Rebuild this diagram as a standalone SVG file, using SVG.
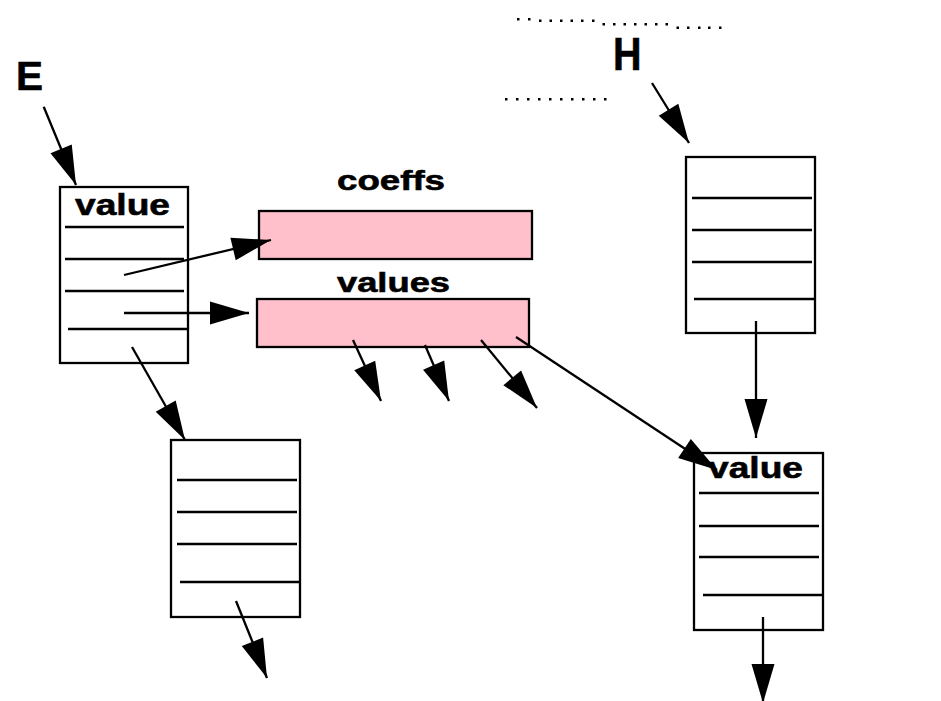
<svg xmlns="http://www.w3.org/2000/svg" width="941" height="701" viewBox="0 0 941 701">
<style>
.box{fill:#fff;stroke:#000;stroke-width:2.3}
.arr{fill:#ffc0cb;stroke:#000;stroke-width:2.3}
.ln{stroke:#000;stroke-width:2.3;fill:none}
.t{font-family:"Liberation Sans",Arial,sans-serif;font-weight:bold;fill:#000;stroke:#000;stroke-width:0.6}
.dot{fill:#000}
</style>
<defs>
<marker id="ah" viewBox="-41 -13 43 26" markerWidth="43" markerHeight="26" refX="0" refY="0" markerUnits="userSpaceOnUse" orient="auto">
<path d="M0,0 L-39,-11.5 L-39,11.5 Z" fill="#000"/>
</marker>
</defs>
<rect width="941" height="701" fill="#fff"/>

<g id="labelE">
<text class="t" x="16" y="90" font-size="40" textLength="27" lengthAdjust="spacingAndGlyphs">E</text>
</g>
<g id="labelH">
<text class="t" x="613" y="70" font-size="47" textLength="28.5" lengthAdjust="spacingAndGlyphs">H</text>
</g>
<g id="dots">
<rect class="dot" x="517" y="18" width="2.5" height="2.5"/>
<rect class="dot" x="528" y="18" width="2.5" height="2.5"/>
<rect class="dot" x="539" y="19.5" width="2.5" height="2.5"/>
<rect class="dot" x="549.5" y="19.5" width="2.5" height="2.5"/>
<rect class="dot" x="560" y="19.5" width="2.5" height="2.5"/>
<rect class="dot" x="570.5" y="19.5" width="2.5" height="2.5"/>
<rect class="dot" x="581" y="19.5" width="2.5" height="2.5"/>
<rect class="dot" x="592" y="19.5" width="2.5" height="2.5"/>
<rect class="dot" x="602.5" y="23" width="2.5" height="2.5"/>
<rect class="dot" x="613" y="23" width="2.5" height="2.5"/>
<rect class="dot" x="623.5" y="23" width="2.5" height="2.5"/>
<rect class="dot" x="634" y="23" width="2.5" height="2.5"/>
<rect class="dot" x="644.5" y="23" width="2.5" height="2.5"/>
<rect class="dot" x="655" y="23" width="2.5" height="2.5"/>
<rect class="dot" x="665.5" y="23" width="2.5" height="2.5"/>
<rect class="dot" x="676.5" y="26.5" width="2.5" height="2.5"/>
<rect class="dot" x="687" y="26.5" width="2.5" height="2.5"/>
<rect class="dot" x="698" y="26.5" width="2.5" height="2.5"/>
<rect class="dot" x="708" y="26.5" width="2.5" height="2.5"/>
<rect class="dot" x="719" y="26.5" width="2.5" height="2.5"/>
<rect class="dot" x="505" y="98" width="2.5" height="2.5"/>
<rect class="dot" x="516" y="98" width="2.5" height="2.5"/>
<rect class="dot" x="527" y="98" width="2.5" height="2.5"/>
<rect class="dot" x="538" y="98" width="2.5" height="2.5"/>
<rect class="dot" x="549" y="98" width="2.5" height="2.5"/>
<rect class="dot" x="560" y="98" width="2.5" height="2.5"/>
<rect class="dot" x="571" y="98" width="2.5" height="2.5"/>
<rect class="dot" x="582" y="98" width="2.5" height="2.5"/>
<rect class="dot" x="593" y="98" width="2.5" height="2.5"/>
<rect class="dot" x="604" y="98" width="2.5" height="2.5"/>
</g>

<g id="boxE">
<rect class="box" x="60" y="187" width="128" height="176"/>
<text class="t" x="75" y="215" font-size="30" textLength="95" lengthAdjust="spacingAndGlyphs">value</text>
<path class="ln" d="M65,227 H184 M65,259 H184 M65,291 H184 M68,329 H187"/>
</g>

<g id="coeffs">
<text class="t" x="337" y="190" font-size="28" textLength="108" lengthAdjust="spacingAndGlyphs">coeffs</text>
<rect class="arr" x="259" y="211" width="273" height="48"/>
</g>

<g id="values">
<text class="t" x="337" y="292" font-size="28" textLength="113" lengthAdjust="spacingAndGlyphs">values</text>
<rect class="arr" x="257" y="299" width="272" height="48"/>
</g>

<g id="boxBL">
<rect class="box" x="171" y="440" width="129" height="177"/>
<path class="ln" d="M177,480 H297 M177,512 H297 M177,544 H297 M180,582 H299"/>
</g>

<g id="boxTR">
<rect class="box" x="686" y="157" width="129" height="176"/>
<path class="ln" d="M692,198 H812 M692,230 H812 M692,262 H812 M694,299 H814"/>
</g>

<g id="boxBR">
<rect class="box" x="694" y="453" width="129" height="177"/>
<path class="ln" d="M699,493 H819 M699,526 H819 M699,557 H819 M703,595 H822"/>
<text class="t" x="708" y="478" font-size="30" textLength="95" lengthAdjust="spacingAndGlyphs">value</text>
</g>

<g id="connectors">
<path class="ln" marker-end="url(#ah)" d="M43.7,106.7 L76,185"/>
<path class="ln" marker-end="url(#ah)" d="M124,275 L271,240"/>
<path class="ln" marker-end="url(#ah)" d="M124,313 L249,313"/>
<path class="ln" marker-end="url(#ah)" d="M132,347 L185,440"/>
<path class="ln" marker-end="url(#ah)" d="M236,601 L267,678"/>
<path class="ln" marker-end="url(#ah)" d="M353,340 L381,401"/>
<path class="ln" marker-end="url(#ah)" d="M425,345 L449,401"/>
<path class="ln" marker-end="url(#ah)" d="M481,340 L537,408"/>
<path class="ln" marker-end="url(#ah)" d="M516,337 L717,470"/>
<path class="ln" marker-end="url(#ah)" d="M652,83 L689,143"/>
<path class="ln" marker-end="url(#ah)" d="M756,321 L756,438"/>
<path class="ln" marker-end="url(#ah)" d="M763,617 L763,703"/>
</g>
</svg>
